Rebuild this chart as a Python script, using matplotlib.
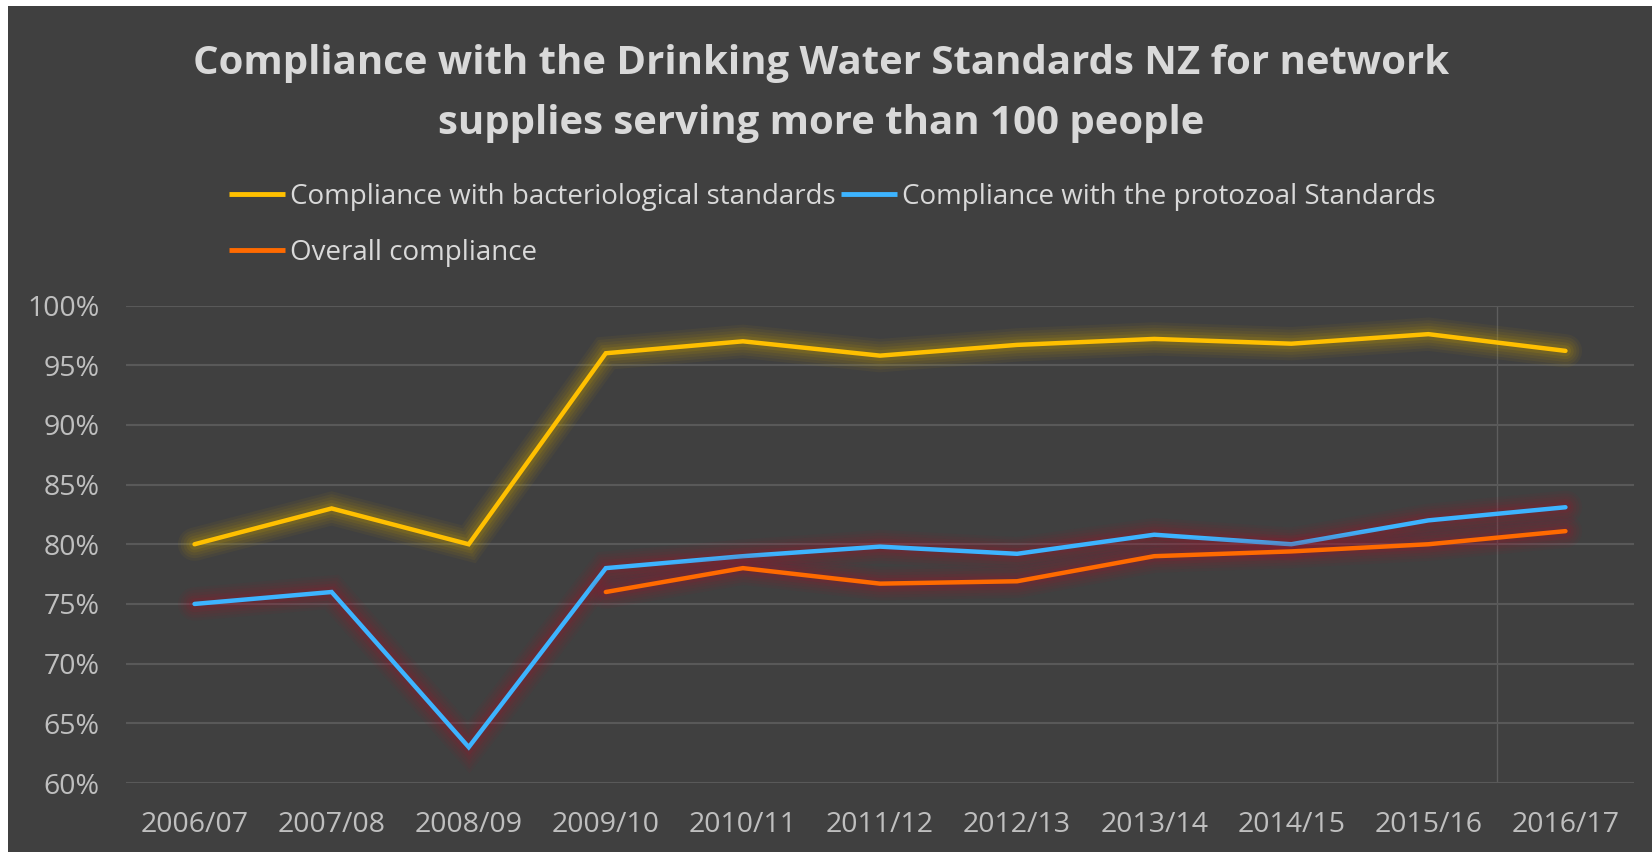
import matplotlib
matplotlib.use("Agg")
import matplotlib.pyplot as plt
import matplotlib.patheffects as pe
from matplotlib.patches import Rectangle
import numpy as np

years = ["2006/07", "2007/08", "2008/09", "2009/10", "2010/11", "2011/12",
         "2012/13", "2013/14", "2014/15", "2015/16", "2016/17"]
bacterio = [80, 83, 80, 96, 97, 95.8, 96.7, 97.2, 96.8, 97.6, 96.2]
protozoal = [75, 76, 63, 78, 79, 79.8, 79.2, 80.8, 80.0, 82.0, 83.1]
overall = [np.nan, np.nan, np.nan, 76, 78, 76.7, 76.9, 79.0, 79.4, 80.0, 81.1]
yticks = [60, 65, 70, 75, 80, 85, 90, 95, 100]

series_names = ["Compliance with bacteriological standards",
                "Compliance with the protozoal Standards",
                "Overall compliance"]
colors = ["#FFC000", "#3DB4FF", "#FF6A00"]
glows = ["#C9A200", "#A0142E", "#A0142E"]

BG = "#404040"
TXT = "#D9D9D9"
TICK = "#BFBFBF"
FONT = ["Open Sans", "DejaVu Sans"]
plt.rcParams['font.family'] = FONT

fig = plt.figure(figsize=(16.52, 8.52), dpi=100, facecolor="white")
fig.patches.append(Rectangle((8 / 1652, 0), 1, 1 - 6 / 852, transform=fig.transFigure,
                             facecolor=BG, edgecolor="none", zorder=-5))

ax = fig.add_axes([126 / 1652, (852 - 783) / 852, (1634 - 126) / 1652, (783 - 305.5) / 852])
ax.set_facecolor(BG)
ax.patch.set_alpha(0)
ax.set_zorder(2)

x = np.arange(len(years))
handles = []
for vals, name, c, g in zip([bacterio, protozoal, overall], series_names, colors, glows):
    effects = [pe.Stroke(linewidth=w, foreground=g, alpha=a)
               for w, a in [(24, 0.06), (20, 0.07), (16, 0.08), (12, 0.10), (8, 0.14)]]
    effects.append(pe.Normal())
    ax.plot(x, vals, color=c, lw=3.2, solid_capstyle="round",
            solid_joinstyle="miter", path_effects=effects, zorder=3)
    handles.append(plt.Line2D([], [], color=c, lw=3.5, solid_capstyle="butt", label=name))

ax.set_xlim(-0.5, len(years) - 0.5)
ax.set_ylim(60, 100)
ax.set_yticks(yticks)
ax.set_yticklabels([f"{v}%" for v in yticks])
ax.set_xticks(x)
ax.set_xticklabels(years)
ax.tick_params(axis="both", length=0, colors=TICK, labelsize=20.5)
ax.tick_params(axis="y", pad=19)
ax.tick_params(axis="x", pad=20)
for s in ax.spines.values():
    s.set_visible(False)
ax.grid(axis="y", color="#595959", lw=1.5, zorder=1)
ax.axvline(9.5, color="#5E5E5E", lw=1.0, zorder=1)

fig.text(0.497, 0.890, "Compliance with the Drinking Water Standards NZ for network\nsupplies serving more than 100 people",
         ha="center", va="center", fontsize=28.9, fontweight="bold", color=TXT, linespacing=1.71)

leg = fig.legend(handles=[handles[0], handles[2], handles[1]], loc="upper left",
                 bbox_to_anchor=(229 / 1652, 1 - 183 / 852), ncol=2, frameon=False,
                 fontsize=20, handlelength=2.0, handletextpad=0.2, columnspacing=0.2,
                 labelspacing=1.0, borderaxespad=0, borderpad=0)
for t in leg.get_texts():
    t.set_color(TXT)

fig.savefig("out.png", dpi=100, facecolor=fig.get_facecolor())
